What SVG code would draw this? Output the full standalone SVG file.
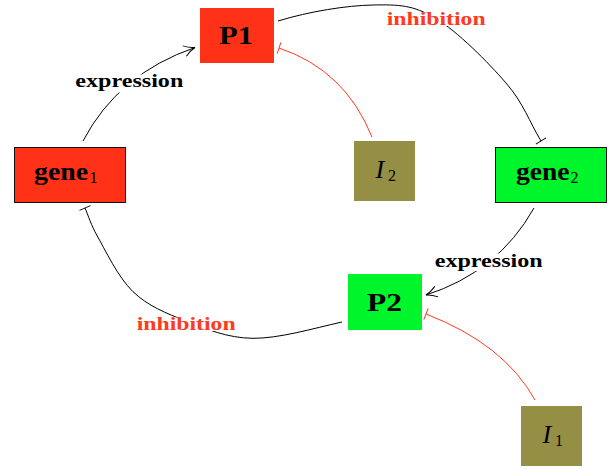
<svg xmlns="http://www.w3.org/2000/svg" width="612" height="469" viewBox="0 0 612 469">
<style>
.red{fill:#FF3217}
.green{fill:#00F52A}
.olive{fill:#948F44}
.bord{stroke:#111;stroke-width:1}
.nt{font-family:"Liberation Serif",serif;font-weight:bold;font-size:25px;fill:#000}
.sub{font-family:"Liberation Serif",serif;font-size:16px;fill:#000}
.it{font-family:"Liberation Serif",serif;font-style:italic;font-size:26px;fill:#000}
.lbl{font-family:"Liberation Serif",serif;font-weight:bold;font-size:18px}
.lk{fill:#000}
.lr{fill:#FF3A20}
.ck{fill:none;stroke:#000;stroke-width:1}
.cr{fill:none;stroke:#FF3A20;stroke-width:1}
.bg{fill:#fff}
</style>
<defs>
<marker id="arr" markerUnits="userSpaceOnUse" orient="auto" markerWidth="14" markerHeight="14" viewBox="-12 -7 14 14" refX="0" refY="0" overflow="visible">
<path d="M-11,-5.5 C-7,-2.5 -3,-0.7 0,0 C-3,0.7 -7,2.5 -11,5.5" fill="none" stroke="#000" stroke-width="1"/>
</marker>
<marker id="barK" markerUnits="userSpaceOnUse" orient="auto" markerWidth="4" markerHeight="14" viewBox="-2 -7 4 14" refX="0" refY="0" overflow="visible">
<path d="M0,-6 V6" stroke="#000" stroke-width="1"/>
</marker>
<marker id="barR" markerUnits="userSpaceOnUse" orient="auto" markerWidth="4" markerHeight="14" viewBox="-2 -7 4 14" refX="0" refY="0" overflow="visible">
<path d="M0,-6 V6" stroke="#FF3A20" stroke-width="1"/>
</marker>
</defs>
<g id="connectors">
<path class="ck" d="M83,141 Q118,74 195,47.5" marker-end="url(#arr)"/>
<path class="ck" d="M278,21 C309.7,11.3 346.8,5.5 373,5 C399.2,4.5 412.8,5 435,18 C457.2,31 488.3,62.5 506,83 C523.7,103.5 529.3,121.7 541,141" marker-end="url(#barK)"/>
<path class="ck" d="M534,208 Q498,272 426,295" marker-end="url(#arr)"/>
<path class="ck" d="M342,322 C312.3,328.7 279,338.5 253,338.3 C227,338.1 206,328.8 186,321 C166,313.2 147.9,306 133,291.7 C118.1,277.4 104.7,249 96.7,235 C91.7,226.3 88,215 85,208" marker-end="url(#barK)"/>
<path class="cr" d="M372,137 Q345,70 279,48" marker-end="url(#barR)"/>
<path class="cr" d="M535,400 Q504,344 426,314" marker-end="url(#barR)"/>
<g id="label-expression-1">
<rect class="bg" x="74" y="74.5" width="111" height="18"/>
<text class="lbl lk" x="75.3" y="87.3" textLength="108" lengthAdjust="spacingAndGlyphs">expression</text>
</g>
<g id="label-inhibition-1">
<rect class="bg" x="385.5" y="12.5" width="102" height="13.5"/>
<text class="lbl lr" x="386.7" y="25.3" textLength="99" lengthAdjust="spacingAndGlyphs">inhibition</text>
</g>
<g id="label-expression-2">
<rect class="bg" x="433.5" y="253.5" width="111" height="17.5"/>
<text class="lbl lk" x="434.7" y="266.7" textLength="108" lengthAdjust="spacingAndGlyphs">expression</text>
</g>
<g id="label-inhibition-2">
<rect class="bg" x="135.5" y="317.5" width="102" height="13.5"/>
<text class="lbl lr" x="136.7" y="330.3" textLength="99" lengthAdjust="spacingAndGlyphs">inhibition</text>
</g>
</g>
<g id="P1">
<rect class="red" x="200" y="8" width="74" height="55"/>
<text class="nt" x="219" y="44.3" textLength="34" lengthAdjust="spacingAndGlyphs">P1</text>
</g>
<g id="gene1">
<rect class="red bord" x="14.5" y="147.5" width="111" height="55"/>
<text class="nt" x="34" y="180.3" textLength="54" lengthAdjust="spacingAndGlyphs">gene</text>
<text class="sub" x="89.5" y="183">1</text>
</g>
<g id="I2">
<rect class="olive" x="354" y="141" width="61" height="60"/>
<text class="it" x="375.5" y="177.7">I</text>
<text class="sub" x="388" y="181">2</text>
</g>
<g id="gene2">
<rect class="green bord" x="495.5" y="147.5" width="111" height="55"/>
<text class="nt" x="516" y="180.3" textLength="53.5" lengthAdjust="spacingAndGlyphs">gene</text>
<text class="sub" x="570.5" y="183">2</text>
</g>
<g id="P2">
<rect class="green" x="348" y="274" width="74" height="56"/>
<text class="nt" x="367" y="310.7" textLength="35" lengthAdjust="spacingAndGlyphs">P2</text>
</g>
<g id="I1">
<rect class="olive" x="521" y="406" width="61" height="60"/>
<text class="it" x="542.5" y="442.7">I</text>
<text class="sub" x="555" y="446">1</text>
</g>
</svg>
